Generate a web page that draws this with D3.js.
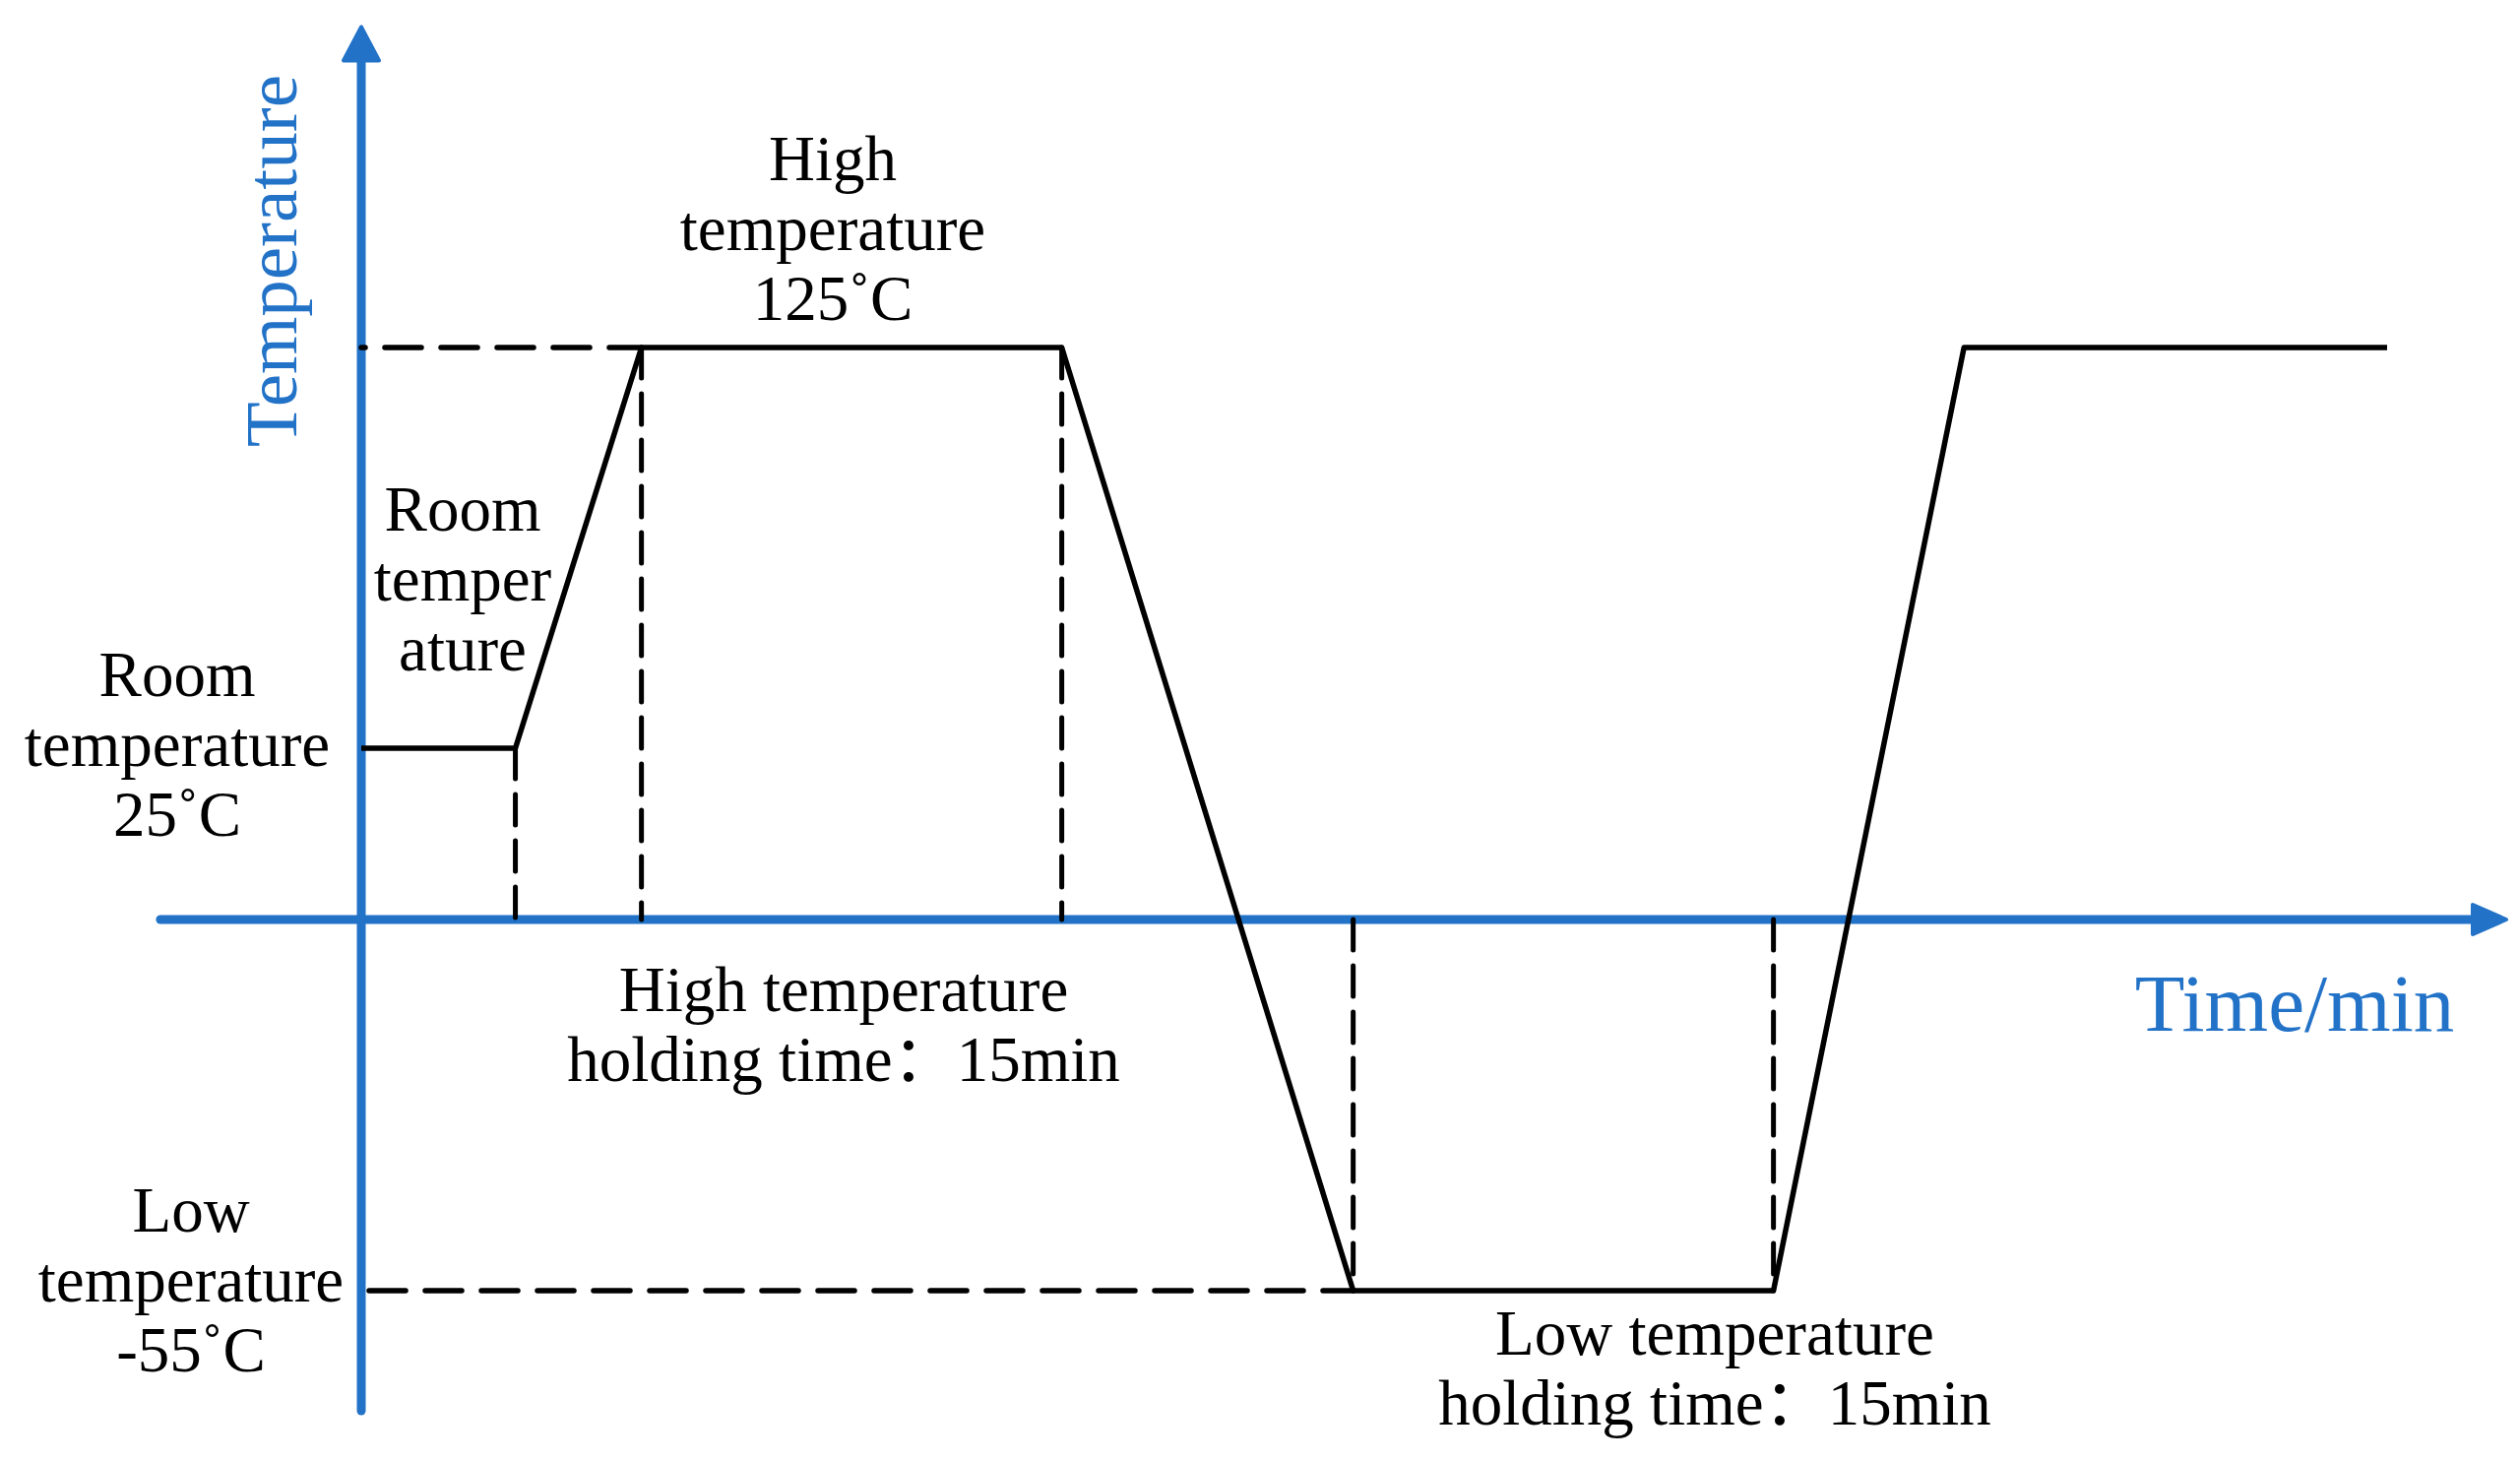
<!DOCTYPE html>
<html>
<head>
<meta charset="utf-8">
<script src="https://cdn.jsdelivr.net/npm/d3@7"></script>
<style>
  html, body { margin: 0; padding: 0; background: #fff; }
  svg { display: block; }
</style>
</head>
<body>
<div id="chart"></div>
<script>
// temperature profile of one thermal cycle (schematic)
const profileTime = [0, 5.5, 10, 25, 35.4, 50.4, 57.2, 72.3];
const profileTemp = [25, 25, 125, 125, -55, -55, 125, 125];

// dashed guide lines: [time, fromTemp, toTemp]
const guideTime = [5.5, 10, 25, 35.4, 50.4];
const guideFrom = [25, 125, 125, 0, 0];
const guideTo = [0, 0, 0, -55, -55];

// horizontal dashed levels: [temp, endTime]
const levelTemp = [125, -55];
const levelEnd = [10, 35.4];

// axis extents in data units
const timeExtent = [-7.17, 76.55];
const tempExtent = [-72.8, 205];

const W = 2560, H = 1483;
const blue = "#2272c8";
const font = "'Times New Roman', 'Liberation Serif', 'Noto Sans CJK SC', serif";

const x = d3.scaleLinear().domain([0, 72.3]).range([367, 2425]);
// schematic, piecewise temperature scale
const y = d3.scaleLinear().domain([-55, 0, 25, 125]).range([1311, 934, 760, 353]);

const svg = d3.select("#chart").append("svg")
  .attr("width", W).attr("height", H);

// axes
const x0 = x(0), y0 = y(0);
const xEnd = x(timeExtent[1]), yTop = y(tempExtent[1]);
svg.append("line")
  .attr("x1", x(timeExtent[0])).attr("x2", xEnd - 34)
  .attr("y1", y0).attr("y2", y0)
  .attr("stroke", blue).attr("stroke-width", 9).attr("stroke-linecap", "round");
svg.append("path")
  .attr("d", `M${xEnd},${y0} L${xEnd - 34},${y0 - 15} L${xEnd - 34},${y0 + 15} Z`)
  .attr("fill", blue).attr("stroke", blue).attr("stroke-width", 4).attr("stroke-linejoin", "round");

svg.append("line")
  .attr("x1", x0).attr("x2", x0)
  .attr("y1", y(tempExtent[0])).attr("y2", yTop + 34)
  .attr("stroke", blue).attr("stroke-width", 9).attr("stroke-linecap", "round");
svg.append("path")
  .attr("d", `M${x0},${yTop} L${x0 - 18},${yTop + 34} L${x0 + 18},${yTop + 34} Z`)
  .attr("fill", blue).attr("stroke", blue).attr("stroke-width", 4).attr("stroke-linejoin", "round");

// horizontal dashed levels
svg.selectAll("line.level")
  .data(levelTemp)
  .join("line")
  .attr("class", "level")
  .attr("x1", x0).attr("x2", (d, i) => x(levelEnd[i]))
  .attr("y1", (d) => y(d)).attr("y2", (d) => y(d))
  .attr("stroke", "#000").attr("stroke-width", 5.5)
  .attr("stroke-dasharray", "37,20")
  .attr("stroke-dashoffset", (d, i) => (i === 0 ? 33 : 49))
  .attr("stroke-linecap", "round");

// vertical dashed guides
svg.selectAll("line.guide")
  .data(guideTime)
  .join("line")
  .attr("class", "guide")
  .attr("x1", (d) => x(d)).attr("x2", (d) => x(d))
  .attr("y1", (d, i) => y(guideFrom[i])).attr("y2", (d, i) => y(guideTo[i]))
  .attr("stroke", "#000").attr("stroke-width", 5)
  .attr("stroke-dasharray", "31,16")
  .attr("stroke-linecap", "round");

// profile
const line = d3.line().x((d) => x(d[0])).y((d) => y(d[1]));
svg.append("path")
  .datum(profileTime.map((t, i) => [t, profileTemp[i]]))
  .attr("d", line)
  .attr("fill", "none")
  .attr("stroke", "#000")
  .attr("stroke-width", 5.5)
  .attr("stroke-linejoin", "round");

// axis titles
svg.append("text")
  .attr("transform", "translate(301,265) rotate(-90)")
  .attr("text-anchor", "middle")
  .style("font-family", font).style("font-size", "75px")
  .attr("fill", blue)
  .text("Temperature");

svg.append("text")
  .attr("x", 2331).attr("y", 1047)
  .attr("text-anchor", "middle")
  .style("font-family", font).style("font-size", "83px")
  .attr("fill", blue)
  .text("Time/min");

// annotations
const notes = [
  { cx: 846, by: 183, lines: ["High", "temperature", "125˚C"] },
  { cx: 470, by: 539, lines: ["Room", "temper", "ature"] },
  { cx: 180, by: 707, lines: ["Room", "temperature", "25˚C"] },
  { cx: 194, by: 1251, lines: ["Low", "temperature", "-55˚C"] },
  { cx: 857, by: 1027, lines: ["High temperature", "holding time：15min"] },
  { cx: 1742, by: 1376, lines: ["Low temperature", "holding time：15min"] },
];

notes.forEach((n) => {
  const t = svg.append("text")
    .attr("text-anchor", "middle")
    .style("font-family", font).style("font-size", "65px")
    .attr("fill", "#000");
  n.lines.forEach((s, i) => {
    t.append("tspan").attr("x", n.cx).attr("y", n.by + i * 71).text(s);
  });
});
</script>
</body>
</html>
